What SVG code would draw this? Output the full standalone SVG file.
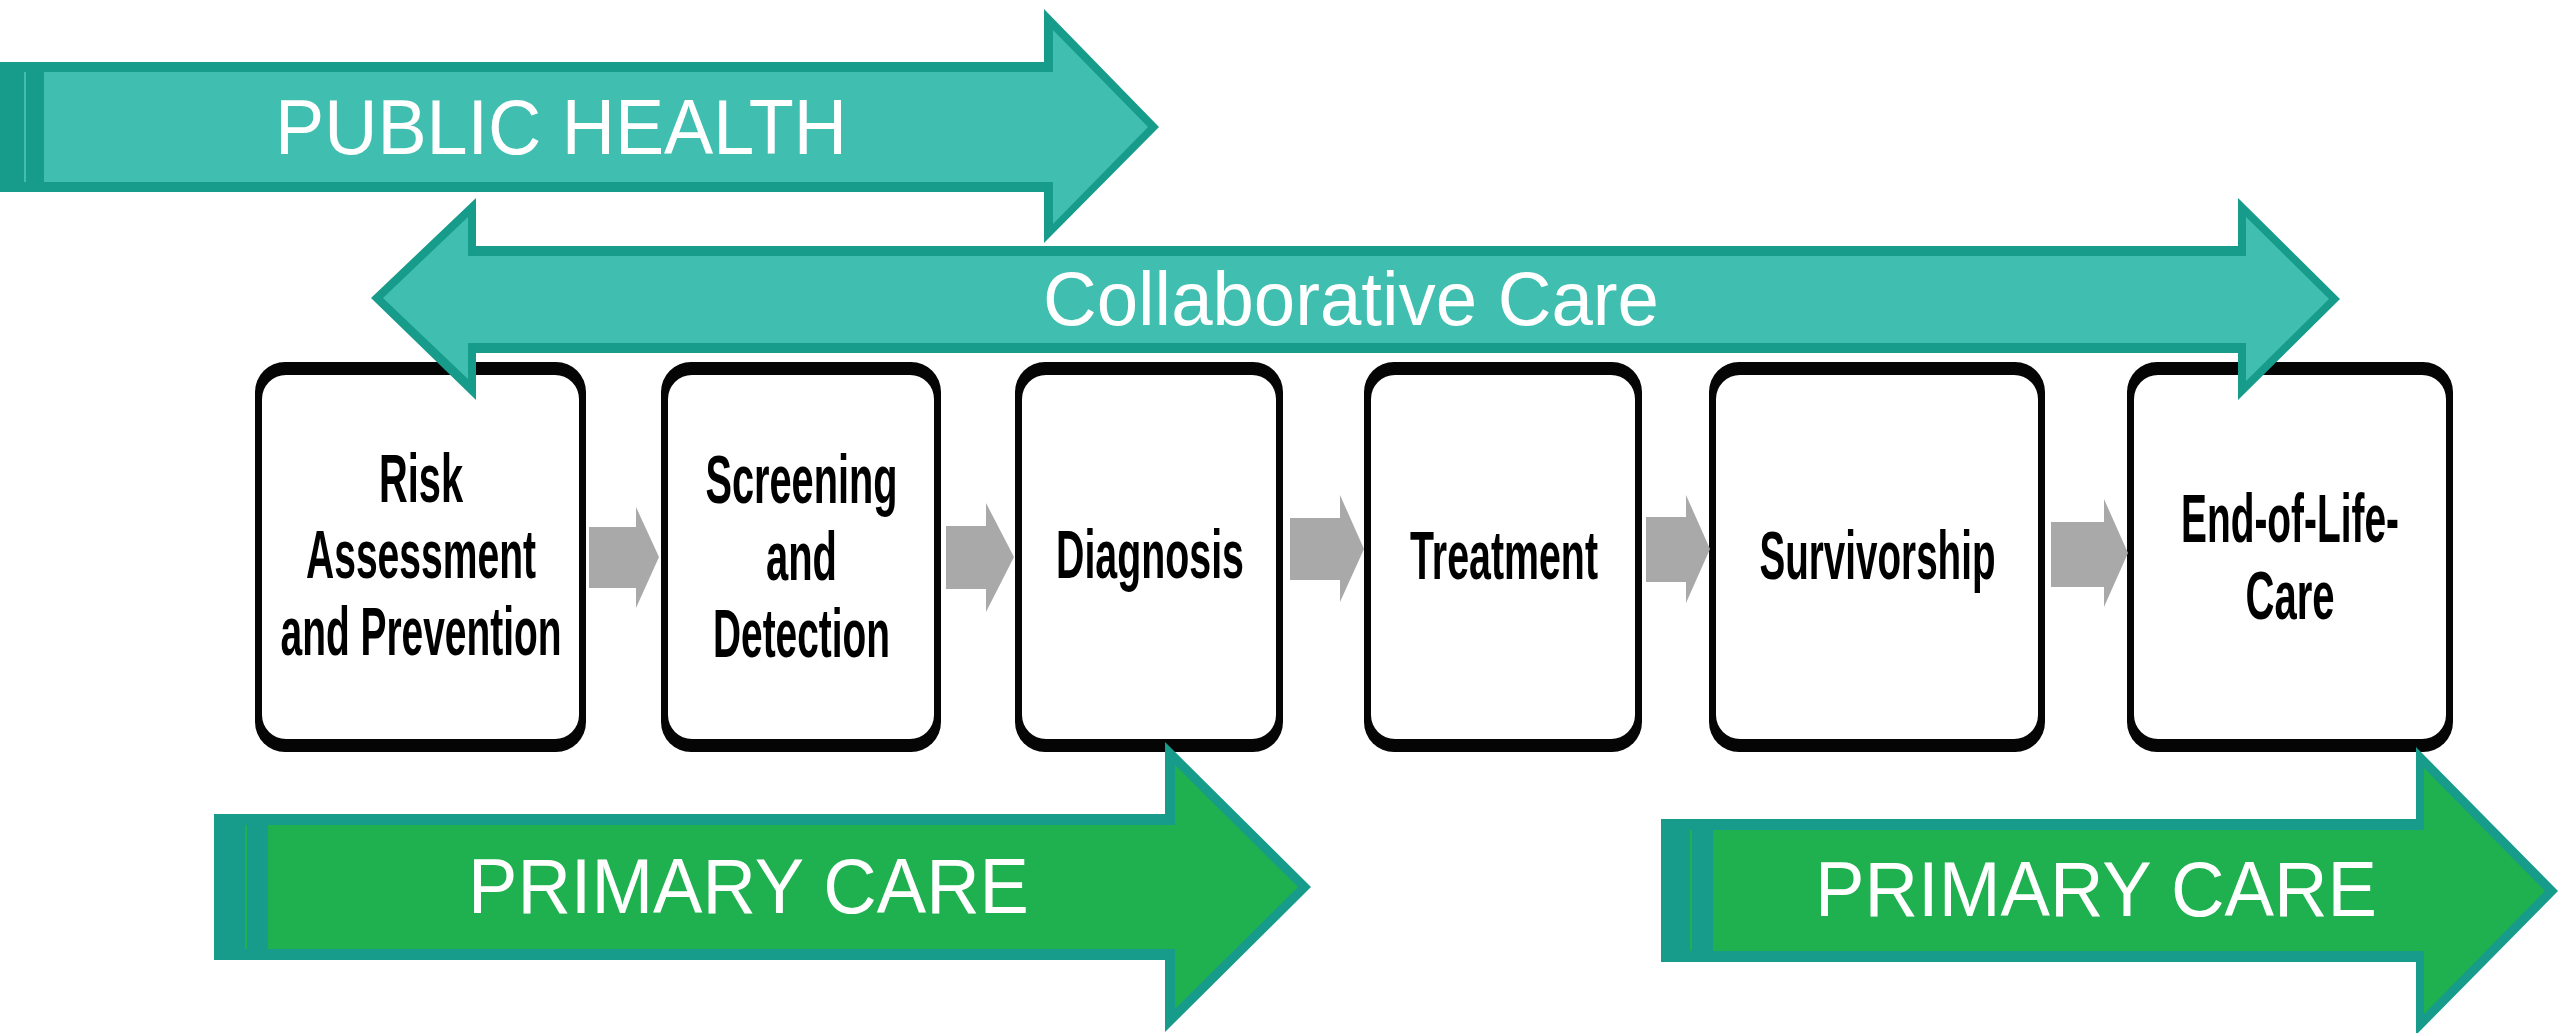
<svg xmlns="http://www.w3.org/2000/svg" width="2560" height="1033" viewBox="0 0 2560 1033">
<style>
.bg{fill:#ffffff}
.boxo{fill:#050505}
.boxi{fill:#ffffff}
.bt{font-family:"Liberation Sans",Arial,sans-serif;font-weight:bold;font-size:68px;fill:#000000;text-anchor:middle}
.wt{font-family:"Liberation Sans",Arial,sans-serif;font-size:78px;fill:#ffffff;text-anchor:middle}
.wt2{font-family:"Liberation Sans",Arial,sans-serif;font-size:76px;fill:#ffffff;text-anchor:middle}
.tdark{fill:#179B8A}
.tlight{fill:#40BFB1}
.green{fill:#1FB14F}
.gray{fill:#A9A9A9}
</style>
<rect class="bg" x="0" y="0" width="2560" height="1033"/>

<g id="node-risk">
<rect class="boxo" x="255" y="362" width="331" height="390" rx="30"/>
<rect class="boxi" x="262" y="375" width="317" height="364" rx="24"/>
<text class="bt" x="421" y="502" textLength="84" lengthAdjust="spacingAndGlyphs">Risk</text>
<text class="bt" x="421" y="578" textLength="230" lengthAdjust="spacingAndGlyphs">Assessment</text>
<text class="bt" x="421" y="655" textLength="281" lengthAdjust="spacingAndGlyphs">and Prevention</text>
</g>

<g id="node-screening">
<rect class="boxo" x="661" y="362" width="280" height="390" rx="30"/>
<rect class="boxi" x="668" y="375" width="266" height="364" rx="24"/>
<text class="bt" x="801.5" y="503" textLength="192" lengthAdjust="spacingAndGlyphs">Screening</text>
<text class="bt" x="801.5" y="580" textLength="71" lengthAdjust="spacingAndGlyphs">and</text>
<text class="bt" x="801.5" y="657" textLength="177" lengthAdjust="spacingAndGlyphs">Detection</text>
</g>

<g id="node-diagnosis">
<rect class="boxo" x="1015" y="362" width="268" height="390" rx="30"/>
<rect class="boxi" x="1022" y="375" width="254" height="364" rx="24"/>
<text class="bt" x="1150" y="578" textLength="188" lengthAdjust="spacingAndGlyphs">Diagnosis</text>
</g>

<g id="node-treatment">
<rect class="boxo" x="1364" y="362" width="278" height="390" rx="30"/>
<rect class="boxi" x="1371" y="375" width="264" height="364" rx="24"/>
<text class="bt" x="1504" y="579" textLength="188" lengthAdjust="spacingAndGlyphs">Treatment</text>
</g>

<g id="node-survivorship">
<rect class="boxo" x="1709" y="362" width="336" height="390" rx="30"/>
<rect class="boxi" x="1716" y="375" width="322" height="364" rx="24"/>
<text class="bt" x="1877.5" y="579" textLength="236" lengthAdjust="spacingAndGlyphs">Survivorship</text>
</g>

<g id="node-endoflife">
<rect class="boxo" x="2127" y="362" width="326" height="390" rx="30"/>
<rect class="boxi" x="2134" y="375" width="312" height="364" rx="24"/>
<text class="bt" x="2290" y="542" textLength="218" lengthAdjust="spacingAndGlyphs">End-of-Life-</text>
<text class="bt" x="2290" y="619" textLength="89" lengthAdjust="spacingAndGlyphs">Care</text>
</g>

<g id="connectors">
<polygon class="gray" points="589,527 636,527 636,507 659,557 636,608 636,588 589,588"/>
<polygon class="gray" points="946,526 986,526 986,503 1014,557 986,612 986,589 946,589"/>
<polygon class="gray" points="1290,518 1340,518 1340,495 1364,549 1340,602 1340,580 1290,580"/>
<polygon class="gray" points="1646,517 1686,517 1686,495 1710,549 1686,603 1686,582 1646,582"/>
<polygon class="gray" points="2051,522 2104,522 2104,499 2128,553 2104,607 2104,587 2051,587"/>
</g>

<g id="band-public-health">
<polygon class="tdark" points="0,62 1044,62 1044,9 1159,127 1044,243 1044,192 0,192"/>
<polygon class="tlight" points="44,72 1053,72 1053,30 1148,127 1053,224 1053,182 44,182"/>
<rect class="tlight" x="24" y="72" width="2" height="110"/>
<text class="wt" x="561" y="154" textLength="572" lengthAdjust="spacingAndGlyphs">PUBLIC HEALTH</text>
</g>

<g id="band-collaborative-care">
<polygon class="tdark" points="371,298 476,198 476,246 2238,246 2238,198 2340,299 2238,400 2238,353 476,353 476,400"/>
<polygon class="tlight" points="383,298 468,217 468,256 2246,256 2246,217 2329,299 2246,381 2246,343 468,343 468,379"/>
<text class="wt2" x="1351" y="325" textLength="616" lengthAdjust="spacingAndGlyphs">Collaborative Care</text>
</g>

<g id="band-primary-care-1">
<polygon class="tdark" points="214,814 1165,814 1165,742 1311,887 1165,1032 1165,960 214,960"/>
<polygon class="green" points="268,825 1175,825 1175,765 1298,887 1175,1009 1175,949 268,949"/>
<rect class="green" x="245" y="825" width="2" height="124"/>
<text class="wt" x="748.5" y="913" textLength="561" lengthAdjust="spacingAndGlyphs">PRIMARY CARE</text>
</g>

<g id="band-primary-care-2">
<polygon class="tdark" points="1661,819 2416,819 2416,747 2558,891 2416,1035 2416,962 1661,962"/>
<polygon class="green" points="1713,830 2424,830 2424,768 2545,891 2424,1014 2424,951 1713,951"/>
<rect class="green" x="1690" y="830" width="2" height="121"/>
<text class="wt" x="2096" y="916" textLength="562" lengthAdjust="spacingAndGlyphs">PRIMARY CARE</text>
</g>
</svg>
